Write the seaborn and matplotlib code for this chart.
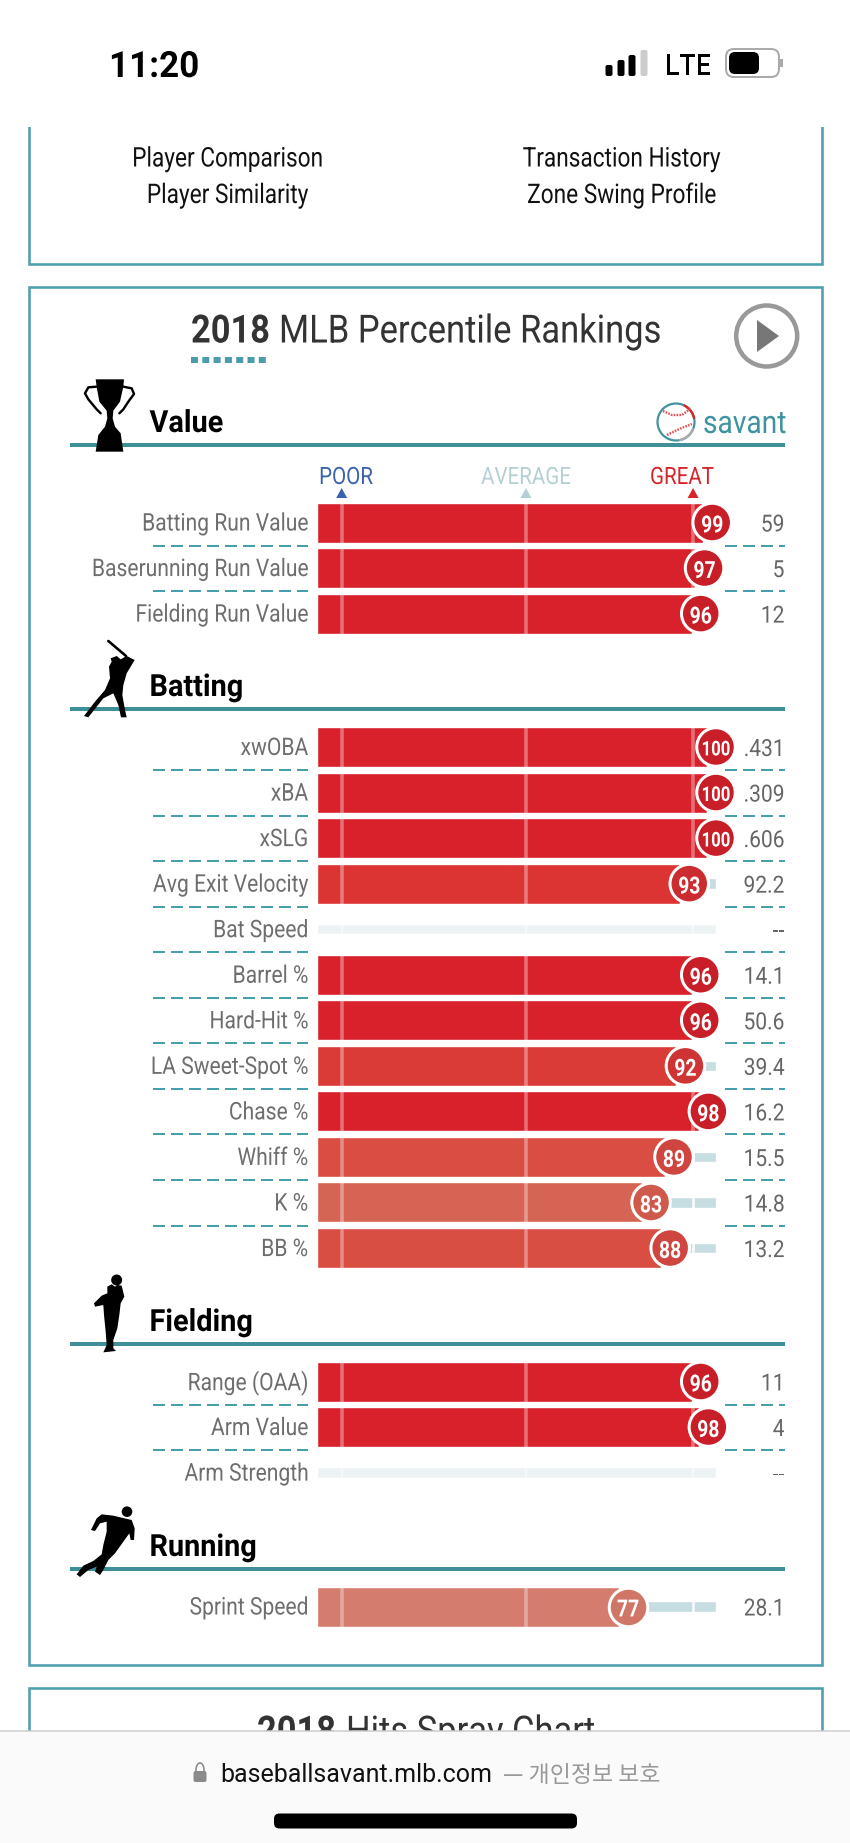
import matplotlib
matplotlib.use("Agg")
import matplotlib.pyplot as plt
from matplotlib import font_manager as fm
from matplotlib.patches import Rectangle, Circle, Polygon, FancyBboxPatch, Arc
from matplotlib.patheffects import AbstractPathEffect
from matplotlib.transforms import Affine2D
import numpy as np
import pandas as pd
import seaborn as sns

sns.set_theme(style="white")

FONT = "Roboto"
KOREAN = "Noto Sans CJK KR"
plt.rcParams["font.family"] = [FONT, "DejaVu Sans"]

# ---------- data ----------
value_labels = ["Batting Run Value", "Baserunning Run Value", "Fielding Run Value"]
value_pct = [99, 97, 96]
value_raw = ["59", "5", "12"]

batting_labels = ["xwOBA", "xBA", "xSLG", "Avg Exit Velocity", "Bat Speed", "Barrel %",
                  "Hard-Hit %", "LA Sweet-Spot %", "Chase %", "Whiff %", "K %", "BB %"]
batting_pct = [100, 100, 100, 93, None, 96, 96, 92, 98, 89, 83, 88]
batting_raw = [".431", ".309", ".606", "92.2", "--", "14.1", "50.6", "39.4", "16.2", "15.5", "14.8", "13.2"]

fielding_labels = ["Range (OAA)", "Arm Value", "Arm Strength"]
fielding_pct = [96, 98, None]
fielding_raw = ["11", "4", "--"]

running_labels = ["Sprint Speed"]
running_pct = [77]
running_raw = ["28.1"]

section_names = ["Value", "Batting", "Fielding", "Running"]
legend_labels = ["POOR", "AVERAGE", "GREAT"]
legend_ticks = [2, 50.25, 94]

bar_colors = {100: "#d8212a", 99: "#d8212a", 98: "#d8212a", 97: "#d8212a", 96: "#d8212a",
              93: "#db3433", 92: "#da3b37", 89: "#d94d43", 88: "#d94e43", 83: "#d66454", 77: "#d47c6e"}
dot_colors = {100: "#c81e28", 99: "#c81e28", 98: "#c81e28", 97: "#c81e28", 96: "#c81e28",
              93: "#cc2c30", 92: "#cf3434", 89: "#cf4540", 88: "#cf4540", 83: "#cf5a4c", 77: "#cf7666"}

# ---------- page ----------
W, H = 850, 1843
TEAL = "#3f8f98"
FRAME = "#4f9fae"
fig = plt.figure(figsize=(W / 100, H / 100), dpi=100, facecolor="white")
bg = fig.add_axes([0, 0, 1, 1], zorder=0)
bg.set_xlim(0, W)
bg.set_ylim(H, 0)
bg.axis("off")
PT = 0.72  # px to pt


class Squeeze(AbstractPathEffect):
    """Narrow real text horizontally about an anchor (the page uses a condensed face)."""

    def __init__(self, sx, anchor):
        super().__init__()
        self.sx, self.anchor = sx, anchor

    def draw_path(self, renderer, gc, tpath, affine, rgbFace=None):
        squeeze = Affine2D().translate(-self.anchor, 0).scale(self.sx, 1).translate(self.anchor, 0)
        renderer.draw_path(gc, tpath, affine + squeeze, rgbFace)


def ptext(x, y, s, size, color="#666666", ha="left", weight="normal", family=None, z=5, ax=None, sx=1.0):
    t = (ax or bg).text(x, y, s, fontsize=size, color=color, ha=ha, va="center_baseline", fontweight=weight,
                        family=family or [FONT, "DejaVu Sans"], zorder=z)
    if sx != 1.0:
        t.set_path_effects([Squeeze(sx, x)])
    return t


# panels
for top, bottom in [(100, 264), (287, 1665), (1688, 1800)]:
    bg.add_patch(Rectangle((29, top), 793, bottom - top, fc="white", ec=FRAME, lw=2.6 * PT, zorder=1))

ptext(228, 156, "Player Comparison", 19.5, "#111111", "center", sx=0.836)
ptext(228, 192.5, "Player Similarity", 19.5, "#111111", "center", sx=0.836)
ptext(622, 156, "Transaction History", 19.5, "#111111", "center", sx=0.836)
ptext(622, 192.5, "Zone Swing Profile", 19.5, "#111111", "center", sx=0.836)

# title
ptext(191, 328, "2018", 28, "#333333", weight="bold", sx=0.885)
ptext(279, 328, "MLB Percentile Rankings", 28, "#333333", sx=0.888)
bg.plot([191, 270], [360, 360], color="#4a9eab", lw=6 * PT, ls=(0, (7 / 6, 4.3 / 6)), solid_capstyle="butt", zorder=3)

# play button
bg.add_patch(Circle((766.7, 336), 30.5, fc="none", ec="#999999", lw=4.5 * PT, zorder=3))
bg.add_patch(Polygon([(757, 320), (779, 336), (757, 352)], fc="#777777", ec="none", zorder=3))

# savant logo
bg.add_patch(Circle((676, 422), 18.5, fc="white", ec="#3f929f", lw=2.2 * PT, zorder=3))
bg.add_patch(Arc((676, 422), 37, 37, theta1=-65, theta2=-10, ec="#d8232a", lw=2.4 * PT, zorder=4))
bg.add_patch(Arc((676, 422), 37, 37, theta1=20, theta2=80, ec="#aaaaaa", lw=2.4 * PT, zorder=4))
for curve_x, curve_y in [([663, 672, 682, 690], [411, 415, 415, 409]), ([667, 675, 684, 692], [435, 431, 427, 424])]:
    bg.plot(curve_x, curve_y, color="#e0555a", lw=2.4 * PT, ls=(0, (0.7, 0.5)), zorder=4)
ptext(703, 421.5, "savant", 23, "#3f929f", sx=0.88)

# section rules, titles
rules = [445, 709, 1344, 1569]
for name, y in zip(section_names, rules):
    bg.plot([70, 785], [y, y], color=TEAL, lw=4 * PT, solid_capstyle="butt", zorder=2)
    ptext(149.5, y - 25, name, 22, "#000000", weight="bold", z=4, sx=0.945)

# icons


def icon(points, ox, oy, **kw):
    bg.add_patch(Polygon([(ox + a / 3, oy + b / 3) for a, b in points], fc="black", ec="none", zorder=4, **kw))


icon([(107, 28), (192, 28), (190, 50), (180, 95), (160, 122), (158, 145), (165, 170), (182, 190), (190, 245),
      (107, 245), (115, 195), (135, 170), (142, 145), (140, 122), (118, 95), (110, 50)], 60, 370)
for hx, hy in [([110, 85, 75, 85, 110, 122], [50, 52, 70, 88, 118, 130]),
               ([190, 215, 222, 205, 190, 178], [50, 55, 72, 95, 118, 130])]:
    bg.plot([60 + v / 3 for v in hx], [370 + v / 3 for v in hy], color="black", lw=2.4 * PT, zorder=4)
icon([(200, 78), (224, 90), (215, 105), (200, 130), (190, 165), (187, 195), (195, 240), (200, 262), (183, 262),
      (175, 225), (160, 190), (130, 205), (85, 262), (72, 258), (105, 215), (135, 180), (150, 145), (147, 110),
      (155, 95), (152, 85), (170, 78), (182, 88)], 60, 630)
bg.plot([60 + 145 / 3, 60 + 198 / 3], [630 + 33 / 3, 630 + 78 / 3], color="black", lw=2.6 * PT, zorder=4)
icon([(172, 60), (185, 62), (193, 95), (182, 115), (178, 150), (172, 190), (160, 225), (160, 250), (168, 258),
      (130, 262), (140, 240), (137, 200), (132, 150), (130, 120), (105, 125), (102, 115), (125, 92), (142, 85),
      (142, 65), (155, 58), (165, 65)], 60, 1265)
bg.add_patch(Circle((60 + 170 / 3, 1265 + 45 / 3), 5.5, fc="black", ec="none", zorder=4))
icon([(185, 68), (215, 75), (224, 100), (222, 135), (212, 135), (208, 115), (190, 140), (165, 175), (145, 195),
      (130, 225), (120, 240), (105, 230), (110, 215), (85, 225), (60, 246), (50, 238), (70, 212), (100, 198),
      (125, 178), (130, 150), (140, 110), (140, 80), (120, 85), (105, 108), (93, 105), (110, 70), (125, 58),
      (160, 62)], 60, 1495)
bg.add_patch(Circle((60 + 201 / 3, 1495 + 50 / 3), 5.3, fc="black", ec="none", zorder=4))

# poor / average / great header
X0, KX = 334.0, 3.82
for lab, tick, cx, col in zip(legend_labels, legend_ticks, [346, 526, 682], ["#3a63ad", "#b5d0d4", "#d8232a"]):
    ptext(cx, 475, lab, 17.2, col, "center", sx=0.86)
    px = X0 + KX * tick
    bg.add_patch(Polygon([(px - 5.5, 498), (px + 5.5, 498), (px, 488)], fc=col, ec="none", zorder=3))

# ---------- bar sections ----------
XMIN, XMAX = -4.4, 100.5
LEFT_PX, RIGHT_PX = X0 + KX * XMIN, X0 + KX * XMAX
PITCH = 45.55
BAR_H = 40 / PITCH
TRACK_H = 10.5 / PITCH


def section(labels, pcts, raws, first_center):
    n = len(labels)
    top = first_center - PITCH / 2
    bottom = top + PITCH * n
    ax = fig.add_axes([LEFT_PX / W, 1 - bottom / H, (RIGHT_PX - LEFT_PX) / W, (bottom - top) / H], zorder=2)
    ax.patch.set_alpha(0)
    df = pd.DataFrame({"label": labels, "pct": pcts, "track": [100.0] * n})
    df["pct"] = df["pct"].astype(float)

    track_pal = {l: ("#edf3f5" if pd.isna(p) else "#c6dde2") for l, p in zip(labels, df["pct"])}
    sns.barplot(df, x="track", y="label", hue="label", palette=track_pal, order=labels, hue_order=labels,
                width=TRACK_H, dodge=False, legend=False, ax=ax, saturation=1, zorder=1)
    for p in ax.patches:
        p.set_x(XMIN)
        p.set_width(100 - XMIN)
    n_tracks = len(ax.patches)

    df_v = df.dropna(subset=["pct"])
    bar_pal = {l: bar_colors[int(p)] for l, p in zip(df_v["label"], df_v["pct"])}
    sns.barplot(df_v, x="pct", y="label", hue="label", palette=bar_pal, order=labels,
                hue_order=list(df_v["label"]), width=BAR_H, dodge=False, legend=False, ax=ax,
                saturation=1, zorder=2)
    for p in ax.patches[n_tracks:]:
        w = p.get_width()
        p.set_x(XMIN)
        p.set_width(w - 2.4 - XMIN)

    # reference ticks
    for i, p in enumerate(df["pct"]):
        for t in legend_ticks:
            if pd.isna(p):
                ax.vlines(t, i - TRACK_H / 2, i + TRACK_H / 2, color="white", alpha=0.45, lw=2.4 * PT, zorder=1.5)
            elif t < p - 2.4:
                ax.vlines(t, i - BAR_H / 2, i + BAR_H / 2, color="white", alpha=0.35, lw=3.6 * PT, zorder=3)
            else:
                ax.vlines(t, i - TRACK_H / 2, i + TRACK_H / 2, color="white", alpha=0.9, lw=2.6 * PT, zorder=1.5)

    # percentile dots
    dv = df.reset_index(drop=True).dropna(subset=["pct"])
    ax.scatter(dv["pct"], dv.index, s=(38.5 * PT) ** 2, c=[dot_colors[int(v)] for v in dv["pct"]],
               edgecolors="white", linewidths=3.0 * PT, zorder=5, clip_on=False)
    for i, v in zip(dv.index, dv["pct"]):
        t = ax.text(v, i + 0.02, f"{int(v)}", color="white", fontsize=17 if v < 100 else 14.7, fontweight="bold",
                    ha="center", va="center_baseline", zorder=6, family=[FONT, "DejaVu Sans"])
        t.set_path_effects([Squeeze(0.82, X0 + KX * v)])

    ax.set_xlim(XMIN, XMAX)
    ax.set_ylim(n - 0.5, -0.5)
    ax.set_xlabel("")
    ax.set_ylabel("")
    ax.set_xticks([])
    ax.set_yticks([])
    sns.despine(ax=ax, left=True, bottom=True)

    # row labels, raw values, dashed separators on the page layer
    for i, (lab, raw) in enumerate(zip(labels, raws)):
        cy = first_center + i * PITCH
        ptext(308, cy - 1, lab, 17.5, "#6e6e6e", "right", sx=0.867)
        ptext(784.5, cy, raw, 17, "#666666", "right", sx=0.889)
        if i < n - 1:
            yd = cy + 23
            for a, b in [(153, 308), (725, 785)]:
                bg.plot([a, b], [yd, yd], color="#46a0ab", lw=2 * PT, ls=(0, (6, 3)), solid_capstyle="butt", zorder=3)


section(value_labels, value_pct, value_raw, 522.5)
section(batting_labels, batting_pct, batting_raw, 747)
section(fielding_labels, fielding_pct, fielding_raw, 1381.5)
section(running_labels, running_pct, running_raw, 1606.5)

# ---------- phone chrome ----------
top_bar = fig.add_axes([0, 0, 1, 1], zorder=3)
top_bar.set_xlim(0, W)
top_bar.set_ylim(H, 0)
top_bar.axis("off")
top_bar.patch.set_alpha(0)
top_bar.add_patch(Rectangle((0, 0), W, 127, fc="white", ec="none", zorder=1))
ptext(109, 63, "11:20", 26, "#000000", weight="bold", ax=top_bar, sx=0.97)
ptext(665, 64, "LTE", 21.5, "#000000", ax=top_bar, weight="medium", sx=0.9)
for x, t, c in zip([609, 621, 632, 644], [65, 60, 55, 50], ["#000000", "#000000", "#000000", "#cccccc"]):
    top_bar.add_patch(FancyBboxPatch((x - 1.5, t + 2), 3, 76 - t - 4, boxstyle="round,pad=2,rounding_size=2",
                                     fc=c, ec="none", zorder=3))
top_bar.add_patch(FancyBboxPatch((729, 52), 47, 22, boxstyle="round,pad=3,rounding_size=8", fc="white", ec="#aaaaaa",
                                 lw=2 * PT, zorder=3))
top_bar.add_patch(FancyBboxPatch((731, 54), 26, 18, boxstyle="round,pad=2,rounding_size=6", fc="black", ec="none", zorder=4))
top_bar.add_patch(Rectangle((780, 59), 3, 8, fc="#aaaaaa", ec="none", zorder=3))

# peeking next panel title (clipped by the browser bar)
ptext(257, 1729, "2018", 28, "#333333", weight="bold", sx=0.885)
ptext(346, 1729, "Hits Spray Chart", 28, "#333333", sx=0.888)

top_bar.add_patch(Rectangle((0, 1731), W, H - 1731, fc="#fafafa", ec="none", zorder=1))
top_bar.plot([0, W], [1731, 1731], color="#cccccc", lw=1.5 * PT, zorder=2)
top_bar.add_patch(FancyBboxPatch((193.5, 1771), 13, 11, boxstyle="round,pad=0,rounding_size=2", fc="#8a8a8a", ec="none", zorder=3))
top_bar.add_patch(Arc((200, 1770), 8, 14, theta1=0, theta2=360, ec="#8a8a8a", lw=1.6 * PT, zorder=2.5))
ptext(220, 1773, "baseballsavant.mlb.com", 18, "#111111", ax=top_bar)
ptext(503, 1773, "— 개인정보 보호", 16.5, "#999999", ax=top_bar, family=[KOREAN, "DejaVu Sans"])
top_bar.add_patch(FancyBboxPatch((278, 1817.5), 295, 7, boxstyle="round,pad=4,rounding_size=5.5", fc="black", ec="none", zorder=3))

fig.savefig("out.png", dpi=100, facecolor="white")
